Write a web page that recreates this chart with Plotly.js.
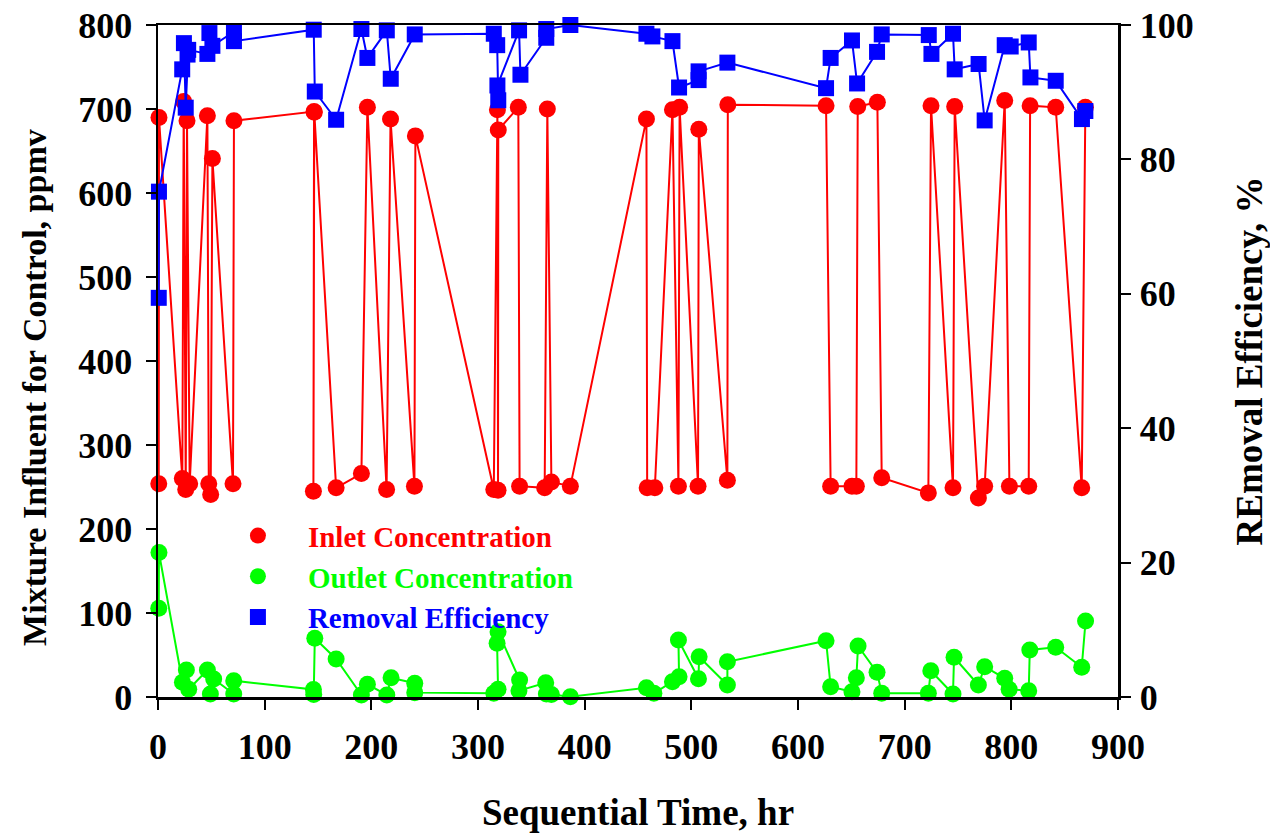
<!DOCTYPE html>
<html>
<head>
<meta charset="utf-8">
<script src="https://cdn.plot.ly/plotly-3.0.1.min.js"></script>
<style>
  html, body { margin: 0; padding: 0; background: #ffffff; }
  #chart { width: 1270px; height: 834px; }
</style>
</head>
<body>
<div id="chart"></div>
<script>
// Inlet concentration (ppmv) against sequential time (hr), in sampling order
const inletTime = [0.7, 0.9, 22.8, 24.1, 26.0, 27.2, 29.7, 46.3, 47.6, 49.4, 51.0, 70.3, 71.2,
  146.3, 145.7, 146.5, 167.0, 190.7, 196.3, 214.3, 218.0, 240.4, 241.3, 314.8, 318.2, 318.8, 319.0,
  337.8, 339.0, 362.5, 365.0, 368.8, 386.6, 457.9, 458.6, 465.8, 482.3, 487.9, 489.0, 506.3, 507.0,
  533.8, 534.2, 626.3, 630.6, 650.6, 654.7, 656.0, 674.4, 678.5, 722.2, 724.7, 745.3, 746.9, 769.1,
  775.0, 793.8, 798.2, 816.3, 817.6, 841.6, 866.0, 869.4];
const inletPpmv = [254, 690, 260, 709, 247, 686, 254, 692, 254, 241, 641, 254, 686,
  697, 245, 696, 249, 266, 702, 247, 688, 251, 668, 247, 699, 246, 675,
  702, 251, 249, 700, 256, 251, 688, 249, 249, 699, 251, 702, 251, 676,
  258, 705, 704, 251, 251, 251, 703, 708, 261, 243, 704, 249, 703, 237,
  251, 710, 251, 251, 704, 702, 249, 702];

// Outlet concentration (ppmv)
const outletTime = [0.7, 0.9, 22.9, 26.6, 28.8, 46.3, 49.1, 52.2, 71.0, 71.0, 145.7, 146.0, 147.0,
  167.0, 190.7, 196.3, 214.5, 218.5, 240.7, 240.7, 314.8, 318.8, 317.9, 318.8, 339.0, 338.4,
  363.5, 364.1, 368.8, 386.6, 457.9, 464.9, 482.3, 488.5, 487.9, 506.7, 507.3, 533.8, 533.8,
  626.3, 630.6, 650.6, 654.7, 656.3, 674.1, 678.5, 722.2, 724.5, 745.3, 746.3, 769.1, 775.0,
  793.8, 797.9, 816.3, 817.3, 841.6, 866.0, 869.6];
const outletPpmv = [105.6, 171.9, 17.5, 32.2, 9.2, 32.2, 3.6, 21.4, 3.6, 19.4, 9, 3, 69.9,
  45.3, 2.4, 15.1, 2.4, 22.9, 16.3, 5.2, 4.4, 9.2, 64, 77.8, 20.2, 7.5,
  17, 3.6, 3, 0.4, 11.1, 4.4, 18.2, 24.2, 67.9, 21.8, 48, 14.3, 42,
  67, 12.3, 6.3, 23, 60.7, 29.4, 4.4, 4.4, 31.3, 3.6, 47.3, 14.3, 36.1,
  22.3, 9.2, 7.5, 56, 59.2, 35.4, 90.5];

// Removal efficiency (%) on the right-hand axis
const effTime = [0.7, 0.9, 22.7, 24.3, 26.0, 27.7, 28.3, 46.3, 48.2, 51.0, 71.2, 71.2,
  146.0, 147.0, 167.0, 190.7, 196.3, 214.5, 218.2, 240.7, 314.8, 318.0, 319.0, 318.2,
  338.5, 339.8, 364.0, 364.0, 386.6, 457.9, 463.5, 482.3, 488.5, 506.8, 506.8, 533.8,
  626.3, 630.6, 650.6, 655.4, 674.1, 678.5, 722.6, 725.1, 745.3, 746.9, 769.3, 775.0,
  793.8, 799.4, 816.3, 817.9, 841.6, 866.2, 869.4];
const effPct = [59.4, 75.2, 93.4, 97.3, 87.7, 95.6, 96.3, 95.7, 98.8, 96.9, 99.0, 97.6,
  99.3, 90.1, 85.9, 99.4, 95.1, 99.2, 92.0, 98.6, 98.7, 97.0, 88.8, 91.0,
  99.2, 92.6, 98.1, 99.4, 100, 98.7, 98.3, 97.6, 90.7, 91.8, 93.1, 94.4,
  90.6, 95.1, 97.7, 91.3, 96.0, 98.6, 98.5, 95.7, 98.7, 93.4, 94.2, 85.8,
  97.0, 96.8, 97.4, 92.2, 91.7, 86.0, 87.2];

const seriesNames = ['Inlet Concentration', 'Outlet Concentration', 'Removal Efficiency'];
const RED = '#ff0000', GREEN = '#00ff00', BLUE = '#0000ff';
const FONT = 'Liberation Serif, Times New Roman, serif';

// Each series: a connecting line (kept out of the legend) plus its markers
function lineTrace(x, y, color, yaxis) {
  return { x: x, y: y, yaxis: yaxis, type: 'scatter', mode: 'lines',
    line: { color: color, width: 2 }, showlegend: false, hoverinfo: 'skip', cliponaxis: false };
}
function markerTrace(x, y, color, symbol, size, name, yaxis) {
  return { x: x, y: y, yaxis: yaxis, type: 'scatter', mode: 'markers',
    marker: { color: color, symbol: symbol, size: size, line: { width: 0 } },
    name: '<span style="color:' + color + '">' + name + '</span>', cliponaxis: false };
}

const data = [
  lineTrace(inletTime, inletPpmv, RED, 'y'),
  markerTrace(inletTime, inletPpmv, RED, 'circle', 17, seriesNames[0], 'y'),
  lineTrace(outletTime, outletPpmv, GREEN, 'y'),
  markerTrace(outletTime, outletPpmv, GREEN, 'circle', 17, seriesNames[1], 'y'),
  lineTrace(effTime, effPct, BLUE, 'y2'),
  markerTrace(effTime, effPct, BLUE, 'square', 16, seriesNames[2], 'y2')
];

const tickFont = { family: FONT, size: 36, color: '#000', weight: 'bold' };
const titleFont = { family: FONT, size: 37, color: '#000', weight: 'bold' };

const axisCommon = {
  showgrid: false, zeroline: false, showline: true, linecolor: '#000', linewidth: 2.5,
  ticks: 'outside', ticklen: 10, tickwidth: 2, tickcolor: '#000', tickfont: tickFont,
  automargin: false
};

const layout = {
  width: 1270, height: 834,
  paper_bgcolor: '#ffffff', plot_bgcolor: '#ffffff',
  margin: { l: 158, r: 152, t: 25, b: 137 },
  showlegend: true,
  legend: {
    x: 0.052, y: 0.278, xanchor: 'left', yanchor: 'top',
    bgcolor: 'rgba(0,0,0,0)', borderwidth: 0, itemwidth: 90,
    font: { family: FONT, size: 29, weight: 'bold' }, tracegroupgap: 0
  },
  xaxis: Object.assign({}, axisCommon, {
    range: [0, 900], dtick: 100, tick0: 0, mirror: true,
    ticklabelstandoff: 6,
    title: { text: 'Sequential Time, hr', font: titleFont, standoff: 34 }
  }),
  yaxis: Object.assign({}, axisCommon, {
    range: [0, 800], dtick: 100, tick0: 0, mirror: true,
    ticklabelstandoff: 6
  }),
  yaxis2: Object.assign({}, axisCommon, {
    range: [0, 100], dtick: 20, tick0: 0, overlaying: 'y', side: 'right',
    ticklabelstandoff: 2,
    title: { text: 'REmoval Efficiency, %', font: titleFont, standoff: 44 }
  }),
  // Left axis title, set a little below the plot's centre line
  annotations: [{
    text: 'Mixture Influent for Control, ppmv',
    xref: 'paper', yref: 'paper', x: 0, y: 0.46, xshift: -123,
    xanchor: 'center', yanchor: 'middle', textangle: -90, showarrow: false,
    font: { family: FONT, size: 34, color: '#000', weight: 'bold' }
  }]
};

Plotly.newPlot('chart', data, layout, { displayModeBar: false, staticPlot: true });
</script>
</body>
</html>
